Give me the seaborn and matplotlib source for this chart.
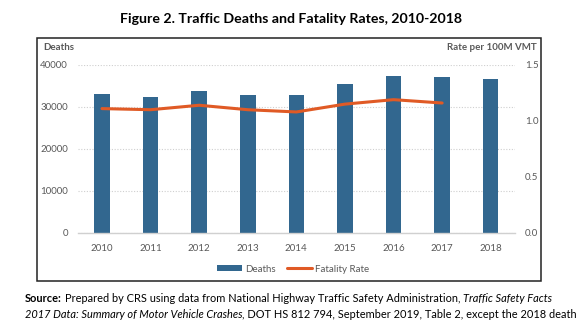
import matplotlib
matplotlib.use("Agg")
import matplotlib.pyplot as plt
import seaborn as sns
import pandas as pd
from matplotlib.patches import Rectangle
from matplotlib.lines import Line2D

years = [2010, 2011, 2012, 2013, 2014, 2015, 2016, 2017, 2018]
deaths = [32999, 32479, 33782, 32893, 32744, 35484, 37400, 37050, 36560]
rate_years = [2010, 2011, 2012, 2013, 2014, 2015, 2016, 2017]
rates = [1.11, 1.10, 1.14, 1.10, 1.08, 1.15, 1.19, 1.16]
left_ticks = [0, 10000, 20000, 30000, 40000]
right_ticks = [0.0, 0.5, 1.0, 1.5]

bar_color = "#32678F"
line_color = "#E05A25"
text_gray = "#595959"

sns.set_theme(style="white")
plt.rcParams["font.family"] = ["Lato", "DejaVu Sans"]

W, H = 586, 327
fig = plt.figure(figsize=(W / 100, H / 100), dpi=100)

def fx(px):
    return px / W

def fy(py):
    return 1 - py / H

# chart frame
fig.patches.append(Rectangle((fx(37), fy(281)), fx(541) - fx(37), fy(38) - fy(281),
                             transform=fig.transFigure, fill=False,
                             edgecolor="#222222", linewidth=1.1))

ax = fig.add_axes([fx(77.7), fy(232.7), fx(515) - fx(77.7), fy(65) - fy(232.7)])
df = pd.DataFrame({"year": years, "deaths": deaths})
sns.barplot(data=df, x="year", y="deaths", native_scale=True, color=bar_color,
            width=0.32, ax=ax, saturation=1, edgecolor="none")
ax.set_xlim(years[0] - 0.5, years[-1] + 0.5)
ax.set_ylim(0, 40000)
ax.set_yticks(left_ticks)
ax.set_yticklabels([str(t) for t in left_ticks])
ax.set_xticks(years)
ax.set_xticklabels([str(y) for y in years])
ax.yaxis.grid(True, linestyle=(0, (1, 1.5)), color="#CFCFCF", linewidth=0.8)
ax.set_axisbelow(True)
for s in ["top", "left", "right"]:
    ax.spines[s].set_visible(False)
ax.spines["bottom"].set_color("#D0D0D0")
ax.spines["bottom"].set_linewidth(1.0)
ax.tick_params(axis="both", length=0, labelsize=7, labelcolor=text_gray)
ax.tick_params(axis="x", pad=8)
ax.tick_params(axis="y", pad=7)
ax.set_xlabel("")
ax.set_ylabel("")

ax2 = ax.twinx()
rdf = pd.DataFrame({"year": rate_years, "rate": rates})
sns.lineplot(data=rdf, x="year", y="rate", color=line_color, linewidth=2.2, ax=ax2)
ax2.set_ylim(0, 1.5)
ax2.set_yticks(right_ticks)
ax2.set_yticklabels([f"{t:.1f}" for t in right_ticks])
ax2.tick_params(axis="y", length=0, labelsize=7, labelcolor=text_gray, pad=7)
for s in ["top", "left", "right", "bottom"]:
    ax2.spines[s].set_visible(False)
ax2.set_ylabel("")
ax2.set_xlabel("")
ax2.grid(False)

fig.text(fx(43), fy(47), "Deaths", fontsize=7, fontweight="bold", color=text_gray,
         ha="left", va="center")
fig.text(fx(537), fy(47), "Rate per 100M VMT", fontsize=7, fontweight="bold",
         color=text_gray, ha="right", va="center")

fig.text(fx(291), fy(19), "Figure 2. Traffic Deaths and Fatality Rates, 2010-2018",
         fontsize=10.2, fontweight="bold", color="black", ha="center", va="center")

handles = [Rectangle((0, 0), 1, 1, facecolor=bar_color, edgecolor="none"),
           Line2D([0], [0], color=line_color, linewidth=2.2)]
fig.legend(handles, ["Deaths", "Fatality Rate"], loc="center",
           bbox_to_anchor=(fx(293), fy(269)), ncol=2, frameon=False, fontsize=7,
           labelcolor=text_gray, handlelength=2.6, handleheight=0.5,
           columnspacing=1.2, handletextpad=0.3)

FS = 7.95
t1 = fig.text(fx(25), fy(299), "Source:", fontsize=FS, fontweight="bold",
              ha="left", va="center", color="black")
fig.canvas.draw()
bb = t1.get_window_extent()
tmp = fig.text((bb.x1 + 3) / W, fy(299),
               "Prepared by CRS using data from National Highway Traffic Safety Administration, ",
               fontsize=FS, ha="left", va="center", color="black")
fig.canvas.draw()
bb2 = tmp.get_window_extent()
fig.text(bb2.x1 / W, fy(299), "Traffic Safety Facts", fontsize=FS, style="italic",
         ha="left", va="center", color="black")

t3 = fig.text(fx(25), fy(314), "2017 Data: Summary of Motor Vehicle Crashes", fontsize=FS,
              style="italic", ha="left", va="center", color="black")
fig.canvas.draw()
bb3 = t3.get_window_extent()
fig.text(bb3.x1 / W, fy(314),
         ", DOT HS 812 794, September 2019, Table 2, except the 2018 death",
         fontsize=FS, ha="left", va="center", color="black")

fig.savefig("out.png", dpi=100)
